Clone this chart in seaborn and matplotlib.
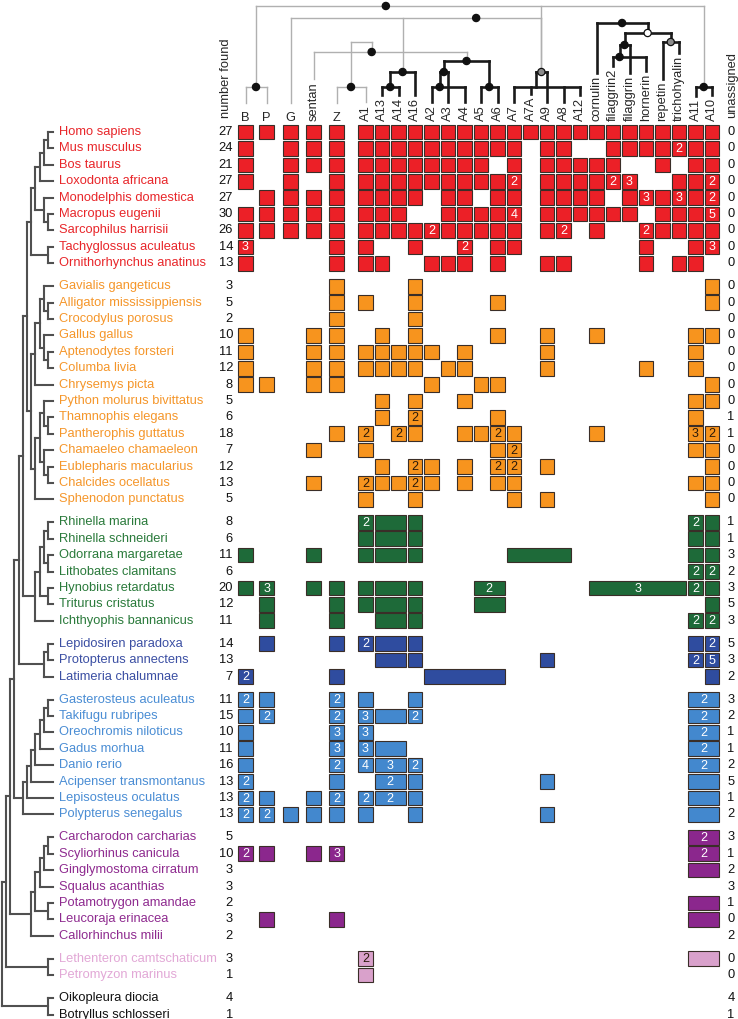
import matplotlib
matplotlib.use("Agg")
from matplotlib import pyplot as plt
import seaborn as sns
import pandas as pd

# ---------------- data ----------------
columns = ["B", "P", "G", "sentan", "Z", "A1", "A13", "A14", "A16", "A2", "A3", "A4",
           "A5", "A6", "A7", "A7A", "A9", "A8", "A12", "cornulin", "filaggrin2",
           "filaggrin", "hornerin", "repetin", "trichohyalin", "A11", "A10"]

# hits per species: "col", "col:n" (n genes), "colA-colB" (one gene spanning columns)
mammal_names = ["Homo sapiens", "Mus musculus", "Bos taurus", "Loxodonta africana",
                "Monodelphis domestica", "Macropus eugenii", "Sarcophilus harrisii",
                "Tachyglossus aculeatus", "Ornithorhynchus anatinus"]
mammal_found = [27, 24, 21, 27, 27, 30, 26, 14, 13]
mammal_unassigned = [0, 0, 0, 0, 0, 0, 0, 0, 0]
mammal_cells = [
    "B P G sentan Z A1 A13 A14 A16 A2 A3 A4 A5 A6 A7 A7A A9 A8 A12 cornulin filaggrin2 filaggrin hornerin repetin trichohyalin A11 A10",
    "B G sentan Z A1 A13 A14 A16 A2 A3 A4 A5 A6 A7 A9 A8 filaggrin2 filaggrin hornerin repetin trichohyalin:2 A11 A10",
    "B G sentan Z A1 A13 A14 A16 A2 A3 A4 A5 A7 A9 A8 A12 cornulin filaggrin2 repetin A11 A10",
    "B G Z A1 A13 A14 A16 A2 A3 A4 A5 A6 A7:2 A9 A8 A12 cornulin filaggrin2:2 filaggrin:3 trichohyalin A11 A10:2",
    "P G sentan Z A1 A13 A14 A16 A3 A4 A6 A7 A9 A8 A12 cornulin filaggrin hornerin:3 repetin trichohyalin:3 A11 A10:2",
    "B P G sentan Z A1 A13 A14 A3 A4 A5 A6 A7:4 A9 A8 A12 cornulin filaggrin2 filaggrin repetin trichohyalin A11 A10:5",
    "B P G sentan Z A1 A13 A14 A16 A2:2 A3 A4 A5 A6 A7 A9 A8:2 cornulin hornerin:2 repetin trichohyalin A11 A10",
    "B:3 Z A1 A16 A4:2 A6 A7 hornerin A11 A10:3",
    "B Z A1 A13 A2 A3 A4 A6 A9 A8 hornerin trichohyalin A11",
]

reptile_names = ["Gavialis gangeticus", "Alligator mississippiensis", "Crocodylus porosus",
                 "Gallus gallus", "Aptenodytes forsteri", "Columba livia", "Chrysemys picta",
                 "Python molurus bivittatus", "Thamnophis elegans", "Pantherophis guttatus",
                 "Chamaeleo chamaeleon", "Eublepharis macularius", "Chalcides ocellatus",
                 "Sphenodon punctatus"]
reptile_found = [3, 5, 2, 10, 11, 12, 8, 5, 6, 18, 7, 12, 13, 5]
reptile_unassigned = [0, 0, 0, 0, 0, 0, 0, 0, 1, 1, 0, 0, 0, 0]
reptile_cells = [
    "Z A16 A10",
    "Z A1 A16 A6 A10",
    "Z A16",
    "B sentan Z A13 A16 A6 A9 cornulin A11 A10",
    "B sentan Z A1 A13 A14 A16 A2 A4 A9 A11",
    "B sentan Z A1 A13 A14 A16 A3 A4 A9 hornerin A11",
    "B P sentan Z A2 A5 A6 A10",
    "A13 A16 A4 A11 A10",
    "A13 A16:2 A6 A11",
    "Z A1:2 A14:2 A16 A4 A5 A6:2 A7 cornulin A11:3 A10:2",
    "sentan A1 A6 A7:2 A11 A10",
    "A13 A16:2 A2 A4 A6:2 A7:2 A9 A10",
    "sentan A1:2 A13 A14 A16:2 A2 A4 A6 A7 A11 A10",
    "A1 A16 A7 A9 A10",
]

amphibian_names = ["Rhinella marina", "Rhinella schneideri", "Odorrana margaretae",
                   "Lithobates clamitans", "Hynobius retardatus", "Triturus cristatus",
                   "Ichthyophis bannanicus"]
amphibian_found = [8, 6, 11, 6, 20, 12, 11]
amphibian_unassigned = [1, 1, 3, 2, 3, 5, 3]
amphibian_cells = [
    "A1:2 A13-A14 A16 A11:2 A10",
    "A1 A13-A14 A16 A11 A10",
    "B sentan A1 A13-A14 A16 A7-A8 A11 A10",
    "A11:2 A10:2",
    "B P:3 sentan Z A1 A13-A14 A16 A5-A6:2 cornulin-trichohyalin:3 A11:2 A10",
    "P Z A1 A13-A14 A16 A5-A6 A10",
    "P Z A13-A14 A16 A11:2 A10:2",
]

lobefin_names = ["Lepidosiren paradoxa", "Protopterus annectens", "Latimeria chalumnae"]
lobefin_found = [14, 13, 7]
lobefin_unassigned = [5, 3, 2]
lobefin_cells = [
    "P Z A1:2 A13-A14 A16 A11 A10:2",
    "A13-A14 A16 A9 A11:2 A10:5",
    "B:2 Z A2-A6 A10",
]

rayfin_names = ["Gasterosteus aculeatus", "Takifugu rubripes", "Oreochromis niloticus",
                "Gadus morhua", "Danio rerio", "Acipenser transmontanus",
                "Lepisosteus oculatus", "Polypterus senegalus"]
rayfin_found = [11, 15, 10, 11, 16, 13, 13, 13]
rayfin_unassigned = [3, 2, 1, 1, 2, 5, 1, 2]
rayfin_cells = [
    "B:2 P Z:2 A1 A16 A11-A10:2",
    "B P:2 Z:2 A1:3 A13-A14 A16:2 A11-A10:2",
    "B Z:3 A1:3 A11-A10:2",
    "B Z:3 A1:3 A13-A14 A11-A10:2",
    "B Z:2 A1:4 A13-A14:3 A16:2 A11-A10:2",
    "B:2 Z A13-A14:2 A16 A9 A11-A10",
    "B:2 P sentan Z:2 A1:2 A13-A14:2 A16 A11-A10",
    "B:2 P:2 G sentan Z A1 A16 A9 A11-A10",
]

shark_names = ["Carcharodon carcharias", "Scyliorhinus canicula", "Ginglymostoma cirratum",
               "Squalus acanthias", "Potamotrygon amandae", "Leucoraja erinacea",
               "Callorhinchus milii"]
shark_found = [5, 10, 3, 3, 2, 3, 2]
shark_unassigned = [3, 1, 2, 3, 1, 0, 2]
shark_cells = ["A11-A10:2", "B:2 P sentan Z:3 A11-A10:2", "A11-A10", "",
               "A11-A10", "P Z A11-A10", ""]

lamprey_names = ["Lethenteron camtschaticum", "Petromyzon marinus"]
lamprey_found = [3, 1]
lamprey_unassigned = [0, 0]
lamprey_cells = ["A1:2 A11-A10", "A1"]

tunicate_names = ["Oikopleura diocia", "Botryllus schlosseri"]
tunicate_found = [4, 1]
tunicate_unassigned = [4, 1]
tunicate_cells = ["", ""]

text_colors = ["#E8262A", "#F5962A", "#2A7A3B", "#3B4FA3", "#4A8DD4", "#8E2A8F", "#E2A8D6", "#111111"]
fill_colors = ["#EC2027", "#F7941E", "#1E6A39", "#2F4C9F", "#4388CE", "#8B278D", "#D9A1CB", "#111111"]
digit_colors = ["white", "#2b1a0a", "white", "white", "white", "white", "#2b1a0a", "white"]

# species tree (left)
mammal_tree = (((((("Homo sapiens", "Mus musculus"), "Bos taurus"), "Loxodonta africana"),
                 ("Monodelphis domestica", ("Macropus eugenii", "Sarcophilus harrisii")))),
               ("Tachyglossus aculeatus", "Ornithorhynchus anatinus"))
reptile_tree = ((((("Gavialis gangeticus", ("Alligator mississippiensis", "Crocodylus porosus")),
                   ("Gallus gallus", ("Aptenodytes forsteri", "Columba livia"))), "Chrysemys picta"),
                 ((("Python molurus bivittatus", ("Thamnophis elegans", "Pantherophis guttatus")),
                   ("Chamaeleo chamaeleon", ("Eublepharis macularius", "Chalcides ocellatus"))),
                  "Sphenodon punctatus")))
amphibian_tree = (((("Rhinella marina", "Rhinella schneideri"),
                    ("Odorrana margaretae", "Lithobates clamitans")),
                   ("Hynobius retardatus", "Triturus cristatus")), "Ichthyophis bannanicus")
lobefin_tree = (("Lepidosiren paradoxa", "Protopterus annectens"), "Latimeria chalumnae")
rayfin_tree = (((((((("Gasterosteus aculeatus", "Takifugu rubripes"), "Oreochromis niloticus"),
                     "Gadus morhua"), "Danio rerio"), "Acipenser transmontanus"),
                  "Lepisosteus oculatus"), "Polypterus senegalus"))
shark_tree = ((((("Carcharodon carcharias", "Scyliorhinus canicula"), "Ginglymostoma cirratum"),
                "Squalus acanthias"), ("Potamotrygon amandae", "Leucoraja erinacea")),
              "Callorhinchus milii")
lamprey_tree = ("Lethenteron camtschaticum", "Petromyzon marinus")
tunicate_tree = ("Oikopleura diocia", "Botryllus schlosseri")
species_tree = ((((((((mammal_tree, reptile_tree), amphibian_tree), lobefin_tree), rayfin_tree),
                   shark_tree), lamprey_tree), tunicate_tree))

# gene tree (top): name, children, level, line colour, dot colour, dot position along bar
gene_tree = [
    ("BP", ["B", "P"], 87, "gray", "black", 0.5),
    ("ZA1", ["Z", "A1"], 87, "gray", "black", 0.5),
    ("A13_14", ["A13", "A14"], 87, "black", "black", 0.5),
    ("A13_16", ["A13_14", "A16"], 72, "black", "black", 0.5),
    ("A2_4", ["A2", "A4"], 87, "black", "black", 0.25),
    ("A2_3", ["A2_4", "A3"], 72, "black", "black", 0.5),
    ("A5_6", ["A5", "A6"], 87, "black", "black", 0.5),
    ("A2_6", ["A2_3", "A5_6"], 61, "black", "black", 0.5),
    ("sen_A2", ["sentan", "A2_6"], 52, "gray", "black", 0.38),
    ("top1", ["ZA1", "sen_A2"], 42, "gray", None, 0.5),
    ("A7grp", ["A7", "A7A", "A8", "A12"], 87, "black", None, 0.33),
    ("A7_9", ["A7grp", "A9"], 72, "black", "gray", 0.5),
    ("mid", ["G", "A13_16", "A7_9"], 18, "gray", "black", 0.74),
    ("A11_10", ["A11", "A10"], 87, "black", "black", 0.5),
    ("root", ["BP", "A7_9", "A11_10"], 6, "gray", "black", 0.29),
    ("fil", ["filaggrin2", "hornerin"], 57, "black", "black", 0.2),
    ("fil2", ["fil", "filaggrin"], 45, "black", "black", 0.5),
    ("rep", ["repetin", "trichohyalin"], 42, "black", "gray", 0.5),
    ("fr", ["fil2", "rep"], 33, "black", "white", 0.5),
    ("corn", ["cornulin", "fr"], 23, "black", "black", 0.5),
]

# ---------------- layout ----------------
W, H = 738, 1019
ROW0, ROW_STEP, GROUP_GAP = 132, 16.4, 6.6
COL_X_FIRST = [245.5, 266.5, 290.5, 313.5, 336.5]
A1_X, CELL_W, CELL_H, CELL_PAD = 365.5, 16.5, 14.6, 1.6
TIP_X, NODE0_X, TREE_STEP = 53, 48, 4.2
NAME_X, FOUND_X, UNASSIGNED_X, HEADER_BASE = 59, 233, 731, 121
FS = 9.3

sns.set_style("white")
plt.rcParams["font.family"] = ["Liberation Sans", "DejaVu Sans"]

fig = plt.figure(figsize=(7.38, 10.19), dpi=100)
ax = fig.add_axes([0, 0, 1, 1])

col_x = COL_X_FIRST + [A1_X + CELL_W * k for k in range(len(columns) - len(COL_X_FIRST))]
col_pos = dict(zip(columns, col_x))

groups = [
    (mammal_names, mammal_found, mammal_unassigned, mammal_cells),
    (reptile_names, reptile_found, reptile_unassigned, reptile_cells),
    (amphibian_names, amphibian_found, amphibian_unassigned, amphibian_cells),
    (lobefin_names, lobefin_found, lobefin_unassigned, lobefin_cells),
    (rayfin_names, rayfin_found, rayfin_unassigned, rayfin_cells),
    (shark_names, shark_found, shark_unassigned, shark_cells),
    (lamprey_names, lamprey_found, lamprey_unassigned, lamprey_cells),
    (tunicate_names, tunicate_found, tunicate_unassigned, tunicate_cells),
]

rows, cells = [], []
y = ROW0
for gi, (names, found, unassigned, hits) in enumerate(groups):
    for name, f, u, h in zip(names, found, unassigned, hits):
        rows.append(dict(name=name, found=f, unassigned=u, group=gi, y=y))
        for tok in h.split():
            lab, _, n = tok.partition(":")
            a, _, b = lab.partition("-")
            x0, x1 = col_pos[a], col_pos[b or a]
            cells.append(dict(group=gi, y=y, left=x0 - CELL_W / 2 + CELL_PAD / 2,
                              width=x1 - x0 + CELL_W - CELL_PAD, n=int(n or 1)))
        y += ROW_STEP
    y += GROUP_GAP
rows = pd.DataFrame(rows)
cells = pd.DataFrame(cells)
row_y = dict(zip(rows["name"], rows["y"]))

# cells
for gi, sub in cells.groupby("group"):
    ax.barh(sub["y"], sub["width"], left=sub["left"], height=CELL_H,
            color=fill_colors[gi], edgecolor="#3a2e28", linewidth=0.8, zorder=2)
    for _, c in sub[sub["n"] > 1].iterrows():
        ax.text(c["left"] + c["width"] / 2, c["y"] + 0.6, str(int(c["n"])), ha="center",
                va="center", color=digit_colors[gi], fontsize=9, zorder=3)

# row texts
for _, r in rows.iterrows():
    ax.text(NAME_X, r["y"], r["name"], color=text_colors[r["group"]], fontsize=FS,
            ha="left", va="center")
    ax.text(FOUND_X, r["y"], str(r["found"]), color="#111111", fontsize=FS,
            ha="right", va="center")
    ax.text(UNASSIGNED_X, r["y"], str(r["unassigned"]), color="#111111", fontsize=FS,
            ha="center", va="center")


# species tree
def draw_tree(node):
    if isinstance(node, str):
        return TIP_X, row_y[node], -1
    kids = [draw_tree(c) for c in node]
    h = max(k[2] for k in kids) + 1
    x = NODE0_X - TREE_STEP * h
    ax.plot([x, x], [kids[0][1], kids[-1][1]], color="#505050", lw=1.5,
            solid_capstyle="projecting")
    for kx, ky, _ in kids:
        ax.plot([x, kx], [ky, ky], color="#505050", lw=1.5, solid_capstyle="projecting")
    return x, (kids[0][1] + kids[-1][1]) / 2, h


draw_tree(species_tree)

# column headers
labels = {}
for name, x in zip(columns, col_x):
    if len(name) == 1:
        labels[name] = ax.text(x, HEADER_BASE, name, ha="center", va="baseline", fontsize=FS)
    else:
        labels[name] = ax.text(x, HEADER_BASE, name, ha="center", va="bottom",
                               rotation=90, fontsize=FS)
ax.text(226, 118, "number found", ha="center", va="bottom", rotation=90, fontsize=FS)
ax.text(732, 118, "unassigned", ha="center", va="bottom", rotation=90, fontsize=FS)

ax.set_xlim(0, W)
ax.set_ylim(H, 0)
ax.axis("off")

# gene tree, leaf lines stop above their labels
fig.canvas.draw()
renderer = fig.canvas.get_renderer()
inv = ax.transData.inverted()
pos = {}
for name, t in labels.items():
    bb = t.get_window_extent(renderer)
    top = inv.transform((bb.x0, bb.y1))[1]
    pos[name] = (col_pos[name], min(top - 3, 103))

line_style = {"gray": dict(color="#b0b0b0", lw=1.0, zorder=2),
              "black": dict(color="#1a1a1a", lw=1.9, zorder=3)}
dots = []
for name, kids, ny, lc, dot, frac in gene_tree:
    xs = [pos[k][0] for k in kids]
    x0, x1 = min(xs), max(xs)
    nx = x0 + frac * (x1 - x0)
    ax.plot([x0, x1], [ny, ny], solid_capstyle="projecting", **line_style[lc])
    for k in kids:
        kx, ky = pos[k]
        ax.plot([kx, kx], [ny, ky], solid_capstyle="projecting", **line_style[lc])
    pos[name] = (nx, ny)
    if dot:
        dots.append(dict(x=nx, y=ny, kind=dot))

sns.scatterplot(data=pd.DataFrame(dots), x="x", y="y", hue="kind",
                palette={"black": "#111111", "gray": "#8c8c8c", "white": "#ffffff"},
                edgecolor="#111111", linewidth=0.9, s=27, legend=False, ax=ax, zorder=5)

ax.set_xlim(0, W)
ax.set_ylim(H, 0)
ax.axis("off")
fig.savefig("out.png", dpi=100)
